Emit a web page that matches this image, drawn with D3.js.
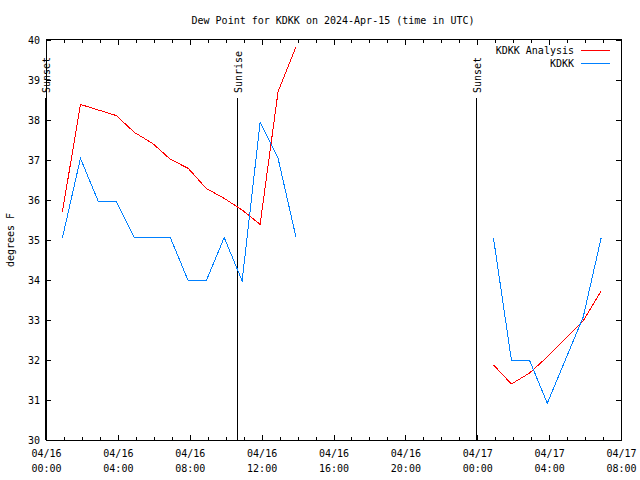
<!DOCTYPE html>
<html><head><meta charset="utf-8">
<script src="https://cdn.jsdelivr.net/npm/d3@7/dist/d3.min.js"></script>
<style>body{margin:0;background:#fff}svg{display:block}text{font-family:"DejaVu Sans Mono",monospace;font-size:10px;fill:#000}</style>
</head><body><svg id="c" width="640" height="480"></svg>
<script>
const title = "Dew Point for KDKK on 2024-Apr-15 (time in UTC)";
const yLabel = "degrees F";
const seriesNames = ["KDKK Analysis", "KDKK"];
const seriesColors = ["#ff0000", "#0080ff"];
const obsTimes = ["2024-04-16T00:55Z","2024-04-16T01:55Z","2024-04-16T02:55Z","2024-04-16T03:55Z","2024-04-16T04:55Z","2024-04-16T05:55Z","2024-04-16T06:55Z","2024-04-16T07:55Z","2024-04-16T08:55Z","2024-04-16T09:55Z","2024-04-16T10:55Z","2024-04-16T11:55Z","2024-04-16T12:55Z","2024-04-16T13:55Z",
  "2024-04-17T00:54Z","2024-04-17T01:54Z","2024-04-17T02:54Z","2024-04-17T03:54Z","2024-04-17T04:54Z","2024-04-17T05:54Z","2024-04-17T06:54Z"];
const analysisValues = [35.71,38.39,38.25,38.11,37.69,37.42,37.02,36.79,36.29,36.04,35.75,35.39,38.71,39.83,
  31.88,31.40,31.67,32.08,32.53,32.98,33.73];
const kdkkValues = [35.06,37.04,35.96,35.96,35.06,35.06,35.06,33.98,33.98,35.06,33.98,37.94,37.04,35.06,
  35.06,32.00,32.00,30.92,32.00,33.08,35.06];
const sunTimes = ["2024-04-15T23:55Z","2024-04-16T10:38Z","2024-04-16T23:56Z"];
const sunLabels = ["Sunset","Sunrise","Sunset"];
const xDomain = ["2024-04-16T00:00Z","2024-04-17T08:00Z"];
const yDomain = [30, 40];

const svg = d3.select("#c");
const L=46, R=621, T=40, B=440;
const x = d3.scaleUtc().domain(xDomain.map(d=>new Date(d))).range([L,R]);
const y = d3.scaleLinear().domain(yDomain).range([B,T]);

svg.append("text").attr("x",333).attr("y",20).attr("dy","0.35em").attr("text-anchor","middle").text(title);
svg.append("text").attr("transform","translate(10,240) rotate(-90)").attr("text-anchor","middle").attr("dy","0.35em").text(yLabel);

const fmt1 = d3.utcFormat("%m/%d"), fmt2 = d3.utcFormat("%H:%M");
const majors = d3.utcHour.every(4).range(x.domain()[0], new Date(+x.domain()[1]+1));
const minors = d3.utcHour.every(1).range(x.domain()[0], new Date(+x.domain()[1]+1));
const gB = svg.append("g").attr("transform",`translate(0,${B})`)
  .call(d3.axisBottom(x).tickValues(majors).tickSize(0).tickFormat(""));
gB.selectAll(".domain").remove();
const gx = svg.append("g").attr("shape-rendering","crispEdges");
minors.forEach(t=>{
  const isMaj = t.getUTCHours()%4===0;
  const len = isMaj?5:3;
  gx.append("line").attr("x1",x(t)+0.5).attr("x2",x(t)+0.5).attr("y1",B).attr("y2",B-len).attr("stroke","#000");
  gx.append("line").attr("x1",x(t)+0.5).attr("x2",x(t)+0.5).attr("y1",T).attr("y2",T+len).attr("stroke","#000");
});
gB.selectAll(".tick").each(function(d){
  const t=d3.select(this);
  t.append("text").attr("y",13).attr("dy","0.35em").attr("text-anchor","middle").text(fmt1(d));
  t.append("text").attr("y",28).attr("dy","0.35em").attr("text-anchor","middle").text(fmt2(d));
});
const gL = svg.append("g").attr("transform",`translate(${L},0)`)
  .call(d3.axisLeft(y).ticks(10).tickSize(0).tickPadding(6));
gL.selectAll(".domain").remove();
gL.selectAll("text").style("font-family","DejaVu Sans Mono").style("font-size","10px").attr("fill","#000");
y.ticks(10).forEach(v=>{
  gx.append("line").attr("x1",L).attr("x2",L+5).attr("y1",Math.round(y(v))+0.5).attr("y2",Math.round(y(v))+0.5).attr("stroke","#000");
  gx.append("line").attr("x1",R).attr("x2",R-5).attr("y1",Math.round(y(v))+0.5).attr("y2",Math.round(y(v))+0.5).attr("stroke","#000");
});
svg.append("rect").attr("x",L+0.5).attr("y",T-0.5).attr("width",R-L).attr("height",B-T+0.5)
  .attr("fill","none").attr("stroke","#000").attr("shape-rendering","crispEdges");

sunTimes.forEach((s,i)=>{
  const sx = Math.round(x(new Date(s)))+0.5;
  svg.append("line").attr("x1",sx).attr("x2",sx).attr("y1",98).attr("y2",B).attr("stroke","#000").attr("shape-rendering","crispEdges");
  svg.append("text").attr("transform",`translate(${sx+1},93) rotate(-90)`).attr("dy","0.35em").text(sunLabels[i]);
});

function segments(vals){
  const pts = obsTimes.map((t,i)=>({t:new Date(t),v:vals[i]}));
  const segs=[[]];
  pts.forEach((p,i)=>{
    if(i>0 && (p.t - pts[i-1].t) > 3*3600e3) segs.push([]);
    segs[segs.length-1].push(p);
  });
  return segs;
}
const line = d3.line().x(d=>x(d.t)).y(d=>y(d.v));
[analysisValues, kdkkValues].forEach((vals,k)=>{
  segments(vals).forEach(seg=>{
    svg.append("path").attr("d",line(seg)).attr("fill","none").attr("stroke",seriesColors[k])
      .attr("stroke-width",1).attr("shape-rendering","crispEdges");
  });
});

seriesNames.forEach((n,i)=>{
  const ly = 50 + i*13;
  svg.append("text").attr("x",574).attr("y",ly).attr("dy","0.35em").attr("text-anchor","end").text(n);
  svg.append("line").attr("x1",581).attr("x2",610).attr("y1",ly+0.5).attr("y2",ly+0.5).attr("stroke",seriesColors[i]).attr("shape-rendering","crispEdges");
});
</script></body></html>
